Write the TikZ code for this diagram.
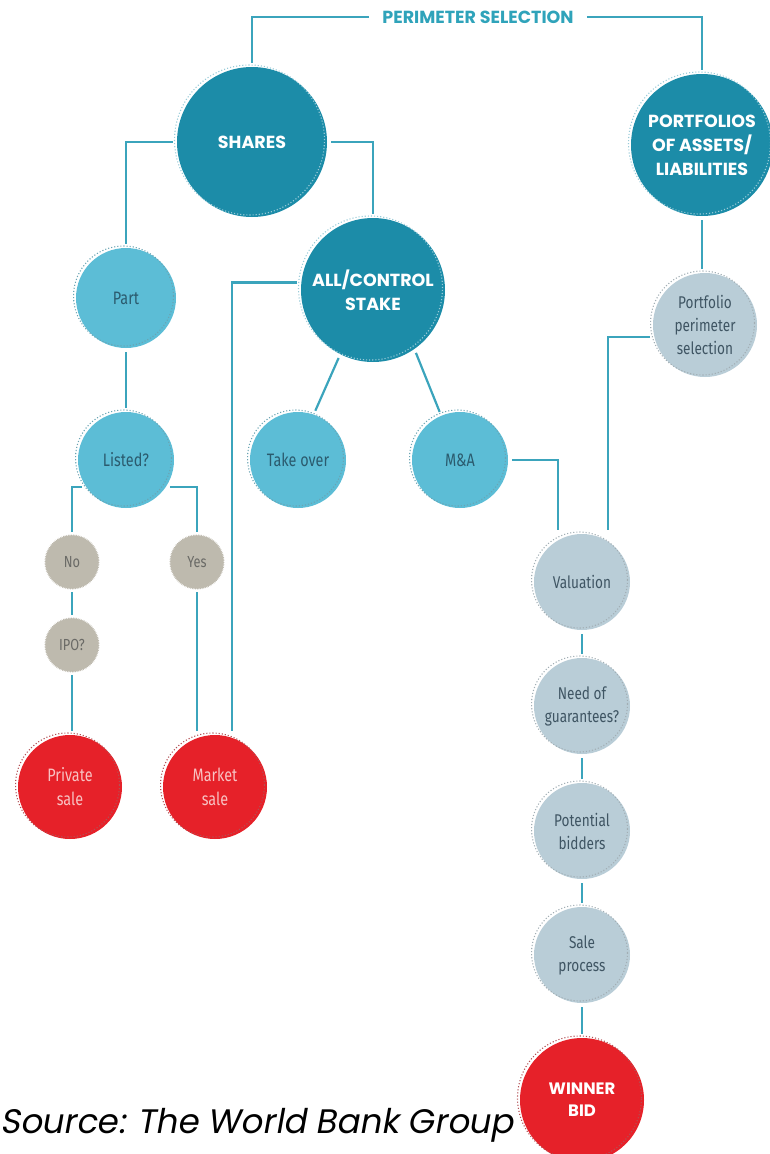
\documentclass[tikz,border=0pt]{standalone}
\usepackage{fontspec}
\setmainfont{Open Sans}
\newfontfamily\capfont{Poppins}
\newfontfamily\condfont[FakeStretch=0.8]{Fira Sans}
\newfontfamily\srcfont[FakeSlant=0.18]{Poppins}
\usetikzlibrary{decorations.pathmorphing}
\definecolor{dteal}{HTML}{1C8CA8}
\definecolor{mteal}{HTML}{5CBDD6}
\definecolor{gry}{HTML}{BEBAAE}
\definecolor{lbg}{HTML}{B9CDD7}
\definecolor{rd}{HTML}{E62129}
\definecolor{ln}{HTML}{3BA4BC}
\definecolor{hdrc}{HTML}{2FA3BA}
\definecolor{mtext}{HTML}{2B5B6E}
\definecolor{ltext}{HTML}{3F5563}
\definecolor{gtext}{HTML}{6A6A66}
\definecolor{ptext}{HTML}{F8C2C2}
\tikzset{
  ring/.style={postaction={draw=#1, dotted, line width=1.1pt, transform canvas={xshift=-2.5pt,yshift=2pt}}},
  bigc/.style={circle, fill=dteal, inner sep=0pt, align=center, text=white,
    font=\capfont\bfseries\fontsize{17.5}{24}\selectfont, ring=dteal!45!white},
  midc/.style={circle, fill=mteal, minimum size=96pt, inner sep=0pt, align=center, text=mtext,
    font=\condfont\fontsize{18}{23}\selectfont, ring=mteal!60!gray},
  grayc/.style={circle, fill=gry, minimum size=52pt, inner sep=0pt, align=center, text=gtext,
    font=\condfont\fontsize{16}{20}\selectfont,
    postaction={draw=gry, decorate, decoration={zigzag, segment length=1.6pt, amplitude=0.8pt}, line width=0.8pt}},
  lbc/.style={circle, fill=lbg, minimum size=96pt, inner sep=0pt, align=center, text=ltext,
    font=\condfont\fontsize{17}{23}\selectfont, ring=lbg!60!gray},
  redc/.style={circle, fill=rd, minimum size=104pt, inner sep=0pt, align=center, text=ptext,
    font=\condfont\fontsize{18}{24}\selectfont, ring=rd!50!gray},
  conn/.style={draw=ln, line width=2.2pt, shorten >=4pt, shorten <=4pt},
}
\begin{document}
\begin{tikzpicture}[x=1pt,y=-1pt]
\useasboundingbox (0,0) rectangle (769,1154);
% header
\node[text=hdrc, font=\capfont\bfseries\fontsize{17.5}{20}\selectfont, inner xsep=9pt] (hdr) at (478,17) {PERIMETER SELECTION};
% big circles
\node[bigc, minimum size=150pt] (shares) at (252,142) {SHARES};
\node[bigc, minimum size=142pt] (port) at (702,145) {PORTFOLIOS\\OF ASSETS/\\LIABILITIES};
\node[bigc, minimum size=144pt] (allc) at (373,290) {ALL/CONTROL\\STAKE};
% mid circles
\node[midc, minimum size=100pt] (part) at (126,298) {Part};
\node[midc] (listed) at (126,460) {Listed?};
\node[midc] (takeover) at (298,460) {Take over};
\node[midc] (mna) at (460,460) {M\&A};
% gray circles
\node[grayc] (no) at (72,562) {No};
\node[grayc] (yes) at (197,562) {Yes};
\node[grayc] (ipo) at (72,645) {IPO?};
% red circles
\node[redc] (priv) at (70,787) {Private\\sale};
\node[redc] (mkt) at (215,787) {Market\\sale};
% light blue-gray
\node[lbc, minimum size=104pt] (pps) at (705,325) {Portfolio\\perimeter\\selection};
\node[lbc] (val) at (582,582) {Valuation};
\node[lbc] (need) at (582,706) {Need of\\guarantees?};
\node[lbc] (pot) at (582,831) {Potential\\bidders};
\node[lbc] (sale) at (582,955) {Sale\\process};
\node[redc, minimum size=124pt, text=white, font=\capfont\bfseries\fontsize{16.5}{22}\selectfont] (win) at (582,1100) {WINNER\\BID};
% source
\node[anchor=west, inner sep=0pt, font=\srcfont\fontsize{34}{38}\selectfont] (src) at (0,1125) {Source: The World Bank Group};
% connectors
\draw[conn] (hdr.west) -| (shares.north);
\draw[conn] (hdr.east) -| (port.north);
\draw[conn] (shares.west) -| (part.north);
\draw[conn] (shares.east) -| (allc.north);
\draw[conn] (allc.174) -| ([xshift=17pt]mkt.north);
\draw[conn] (part.south) -- (listed.north);
\draw[conn] (listed.214) -| (no.north);
\draw[conn] (listed.-34) -| (yes.north);
\draw[conn] (no.south) -- (ipo.north);
\draw[conn] (ipo.south) -- (ipo.south |- priv.north);
\draw[conn] (yes.south) -- (yes.south |- mkt.north);
\draw[conn] (allc.243) -- (takeover.71);
\draw[conn] (allc.305) -- (mna.113);
\draw[conn] (mna.east) -| ([xshift=-24pt]val.north);
\draw[conn] (port.south) -- (port.south |- pps.north);
\draw[conn] (pps.193) -| ([xshift=26pt]val.north);
\draw[conn] (val.south) -- (need.north);
\draw[conn] (need.south) -- (pot.north);
\draw[conn] (pot.south) -- (sale.north);
\draw[conn] (sale.south) -- (win.north);
\end{tikzpicture}
\end{document}
